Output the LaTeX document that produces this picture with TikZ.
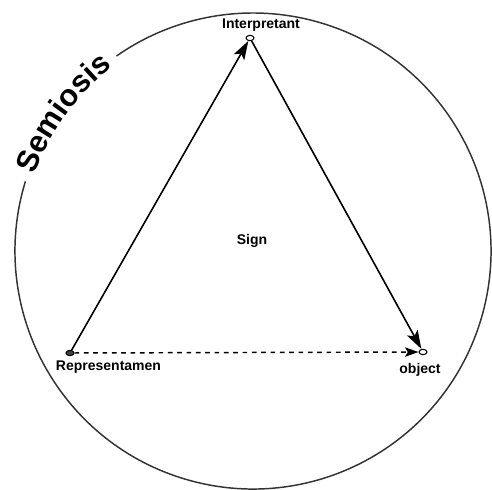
\documentclass[tikz,border=0pt]{standalone}
\usepackage{fontspec}
\setmainfont{Liberation Sans}
\usetikzlibrary{arrows.meta, shapes.geometric, decorations.text}

\newcommand\semifont{\fontsize{23}{25}\selectfont\bfseries}

\begin{document}
\begin{tikzpicture}[x=0.75pt, y=0.75pt,
  vertex/.style={ellipse,draw,fill=white,line width=0.8pt,inner sep=0pt,minimum width=6pt,minimum height=4pt},
  lbl/.style={font=\fontsize{10.5}{12}\selectfont\bfseries,inner sep=0pt},
  rel/.style={line width=1.2pt,-{Stealth[length=14pt,width=9pt,inset=3pt]}},
  ring/.style={line width=1.1pt,black!80}]
\useasboundingbox (0,0) rectangle (492,489);
\draw[ring] (253,238) ++(163:238) arc[start angle=163, end angle=485, radius=238];
\path[decorate, decoration={text along path, text align=center,
  text={|\semifont|Semiosis}}] (253,238) ++(176:231) arc[start angle=176, end angle=112, radius=231];
\node[vertex] (interp) at (250,451) {};
\node[vertex, fill=black!75] (rep) at (70,136) {};
\node[vertex] (obj) at (423,137) {};
\node[lbl] (interplbl) at (261,464) {Interpretant};
\node[lbl] (replbl) at (108.5,122) {Representamen};
\node[lbl] (objlbl) at (420,119) {object};
\node[lbl] (sign) at (252,248) {Sign};
\draw[rel] (rep) -- (interp);
\draw[rel] (interp) -- (obj);
\draw[line width=1.1pt, dash pattern=on 3.5pt off 3.5pt, -{Stealth[length=10pt,width=7pt,inset=2pt]}] (rep) -- (obj);
\end{tikzpicture}
\end{document}
